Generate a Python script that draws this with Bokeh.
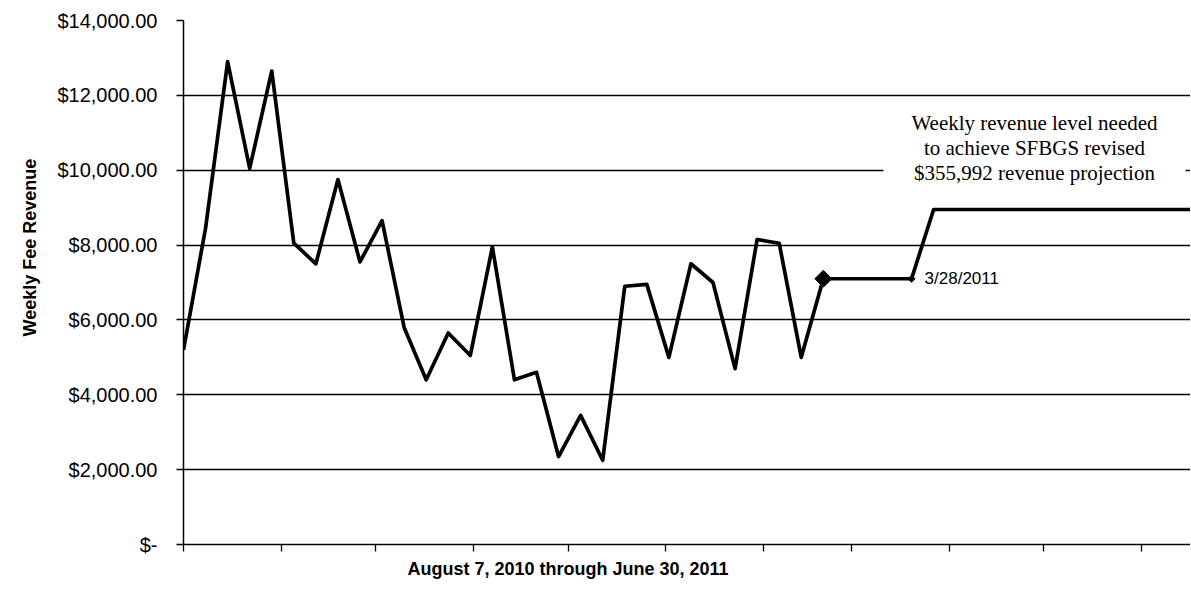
from datetime import datetime, timedelta

from bokeh.plotting import figure
from bokeh.models import (ColumnDataSource, FixedTicker, CustomJSTickFormatter,
                          Range1d, Label, Title)
from bokeh.embed import file_html
from bokeh.resources import INLINE

# ---------------- data ----------------
first_week = datetime(2010, 8, 9)
weekly_revenue = [5200, 8450, 12900, 10050, 12650, 8050, 7500, 9750, 7550, 8650,
                  5800, 4400, 5650, 5050, 7950, 4400, 4600, 2350, 3450, 2250,
                  6900, 6950, 5000, 7500, 7000, 4700, 8150, 8050, 5000, 7100]
weekly_dates = [first_week + timedelta(weeks=i) for i in range(len(weekly_revenue))]

proj_dates = [datetime(2011, 2, 28), datetime(2011, 3, 28),
              datetime(2011, 4, 4), datetime(2011, 6, 30)]
proj_values = [7100, 7100, 8950, 8950]

y_ticks = [0, 2000, 4000, 6000, 8000, 10000, 12000, 14000]
y_tick_labels = ["$-", "$2,000.00", "$4,000.00", "$6,000.00", "$8,000.00",
                 "$10,000.00", "$12,000.00", "$14,000.00"]
x_tick_dates = [datetime(2010, 8, 9), datetime(2010, 9, 9), datetime(2010, 10, 9),
                datetime(2010, 11, 9), datetime(2010, 12, 9), datetime(2011, 1, 9),
                datetime(2011, 2, 9), datetime(2011, 3, 9), datetime(2011, 4, 9),
                datetime(2011, 5, 9), datetime(2011, 6, 9)]

x_title = "August 7, 2010 through June 30, 2011"
y_title = "Weekly Fee Revenue"
note_text = ("Weekly revenue level needed\nto achieve SFBGS revised\n"
             "$355,992 revenue projection")
marker_label = "3/28/2011"

EPOCH = datetime(1970, 1, 1)
def ms(d):
    return (d - EPOCH).total_seconds() * 1000.0

# ---------------- figure ----------------
x_start = first_week
x_end = first_week + timedelta(days=319.5)

p = figure(width=1190, height=583, x_axis_type="datetime",
           x_range=Range1d(x_start, x_end), y_range=Range1d(0, 14000),
           output_backend="svg", toolbar_location=None,
           min_border_left=183, min_border_right=0, min_border_top=20,
           min_border_bottom=35)
p.outline_line_color = None
p.background_fill_color = "white"
p.border_fill_color = "white"

# y axis
p.yaxis.ticker = FixedTicker(ticks=y_ticks)
p.yaxis.major_label_overrides = {t: l for t, l in zip(y_ticks, y_tick_labels)}
p.yaxis.major_label_text_font = "Liberation Sans"
p.yaxis.major_label_text_font_size = "20px"
p.yaxis.major_label_text_color = "black"
p.yaxis.major_label_standoff = 19
p.yaxis.major_tick_out = 7
p.yaxis.major_tick_in = 0
p.yaxis.minor_tick_line_color = None
p.yaxis.axis_line_color = "black"
p.yaxis.axis_line_width = 1.5
p.yaxis.major_tick_line_color = "black"
p.yaxis.major_tick_line_width = 1.3

# x axis
p.xaxis.ticker = FixedTicker(ticks=[ms(d) for d in x_tick_dates])
p.xaxis.formatter = CustomJSTickFormatter(code="return ''")
p.xaxis.major_label_standoff = 0
p.xaxis.major_tick_out = 7
p.xaxis.major_tick_in = 0
p.xaxis.minor_tick_line_color = None
p.xaxis.axis_line_color = "black"
p.xaxis.axis_line_width = 1.5
p.xaxis.major_tick_line_color = "black"
p.xaxis.major_tick_line_width = 1.3

# grid
p.xgrid.visible = False
p.ygrid.ticker = FixedTicker(ticks=y_ticks)
p.ygrid.grid_line_color = "black"
p.ygrid.grid_line_width = 1.4

# titles
p.add_layout(Title(text=x_title, align="left", offset=224,
                   text_font="Liberation Sans", text_font_size="18px",
                   text_font_style="bold", text_color="black", standoff=10), "below")
p.add_layout(Title(text=y_title, align="left", offset=208,
                   text_font="Liberation Sans", text_font_size="18px",
                   text_font_style="bold", text_color="black", standoff=29), "left")

# series
src = ColumnDataSource(dict(x=weekly_dates, y=weekly_revenue))
p.line("x", "y", source=src, line_color="black", line_width=3.7, line_join="round")

psrc = ColumnDataSource(dict(x=proj_dates, y=proj_values))
p.line("x", "y", source=psrc, line_color="black", line_width=3.7, line_join="round")

p.scatter(x=proj_dates[:1], y=proj_values[:1], marker="square", angle=0.785398,
          size=12, fill_color="black", line_color="black")
p.scatter(x=proj_dates[1:2], y=proj_values[1:2], marker="square", angle=0.785398,
          size=5, fill_color="black", line_color="black")

# annotations
p.add_layout(Label(x=proj_dates[1], y=proj_values[1], text=marker_label,
                   x_offset=13, text_baseline="middle",
                   text_font="Liberation Sans", text_font_size="17px",
                   text_color="black"))

p.add_layout(Label(x=first_week + timedelta(days=270), y=10620, text=note_text,
                   text_align="center", text_baseline="middle",
                   text_font="Liberation Serif", text_font_size="21px",
                   text_line_height=1.05, text_color="black",
                   background_fill_color="white",
                   padding=dict(top=8, right=28, bottom=6, left=28)))

open("out.html", "w").write(file_html(p, INLINE))
